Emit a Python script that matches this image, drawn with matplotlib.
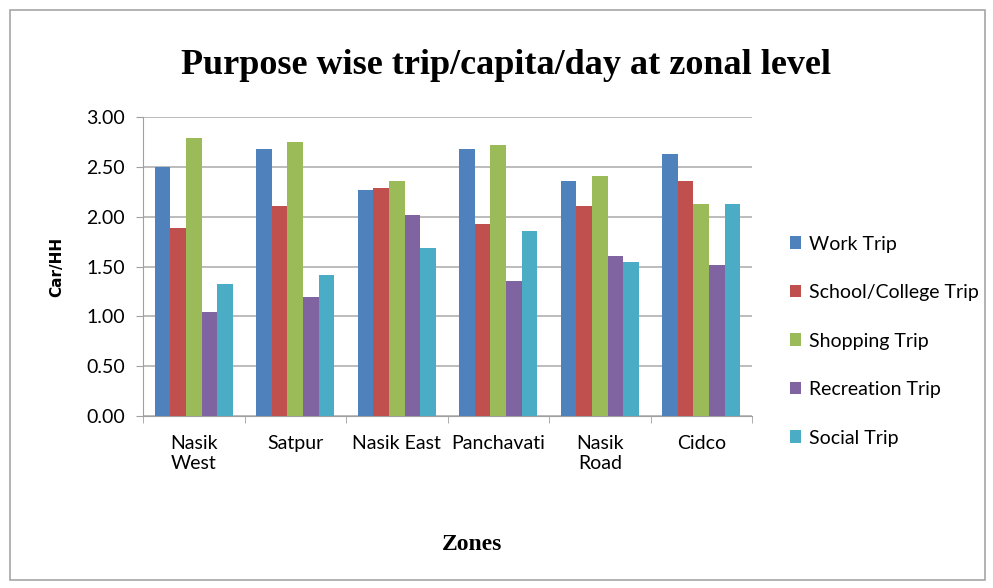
import numpy as np
import matplotlib.pyplot as plt
from matplotlib.patches import Rectangle

zones = ["Nasik\nWest", "Satpur", "Nasik East", "Panchavati", "Nasik\nRoad", "Cidco"]
series_names = ["Work Trip", "School/College Trip", "Shopping Trip", "Recreation Trip", "Social Trip"]
work = [2.50, 2.68, 2.27, 2.68, 2.36, 2.63]
school = [1.89, 2.11, 2.29, 1.93, 2.11, 2.36]
shopping = [2.79, 2.75, 2.36, 2.72, 2.41, 2.13]
recreation = [1.04, 1.19, 2.02, 1.35, 1.61, 1.52]
social = [1.32, 1.41, 1.69, 1.86, 1.55, 2.13]
colors = ["#4F81BD", "#C0504D", "#9BBB59", "#8064A2", "#4BACC6"]

fig = plt.figure(figsize=(9.93, 5.88), dpi=100)
ax = fig.add_axes([143 / 993, 1 - 416 / 588, (752 - 143) / 993, (416 - 117) / 588])

# outer chart border
fig.patches.append(Rectangle((10 / 993, 8 / 588), 975 / 993, 570 / 588,
                             transform=fig.transFigure, fill=False,
                             edgecolor="#A6A6A6", linewidth=1.2))

x = np.arange(len(zones))
bw = 0.153
data = [work, school, shopping, recreation, social]
for i, (vals, name, c) in enumerate(zip(data, series_names, colors)):
    ax.bar(x + (i - 2) * bw, vals, bw, color=c, label=name, zorder=3)

ax.set_xlim(-0.5, len(zones) - 0.5)
ax.set_ylim(0, 3)
ax.set_yticks(np.arange(0, 3.01, 0.5))
ax.set_yticklabels([f"{v:.2f}" for v in np.arange(0, 3.01, 0.5)],
                   fontfamily="Lato", fontsize=14)
ax.yaxis.grid(True, color="#B0B0B0", linewidth=1.2, zorder=0)

ax.set_xticks(x)
ax.set_xticklabels(zones, fontfamily="Lato", fontsize=14)
ax.tick_params(axis="x", length=0, pad=14)
ax.set_xticks(np.arange(-0.5, len(zones), 1), minor=True)
ax.tick_params(axis="x", which="minor", length=5, color="#A0A0A0")
ax.tick_params(axis="y", length=5, color="#A0A0A0", pad=8)

for s in ["top", "right"]:
    ax.spines[s].set_visible(False)
for s in ["left", "bottom"]:
    ax.spines[s].set_color("#A0A0A0")

ax.set_ylabel("Car/HH", fontweight="bold", fontsize=11, labelpad=16)
fig.text(0.475, 1 - 545 / 588, "Zones", ha="center", va="center",
         fontfamily="Liberation Serif", fontweight="bold", fontsize=17)
fig.text(0.51, 1 - 65 / 588, "Purpose wise trip/capita/day at zonal level",
         ha="center", va="center", fontfamily="Liberation Serif",
         fontweight="bold", fontsize=26)

leg = fig.legend(loc="upper left", bbox_to_anchor=(772 / 993, 1 - 218 / 588),
                 frameon=False, prop={"family": "Lato", "size": 14},
                 handlelength=0.6, handleheight=0.6, handletextpad=0.4,
                 labelspacing=1.62)

plt.savefig("out.png", dpi=100)
